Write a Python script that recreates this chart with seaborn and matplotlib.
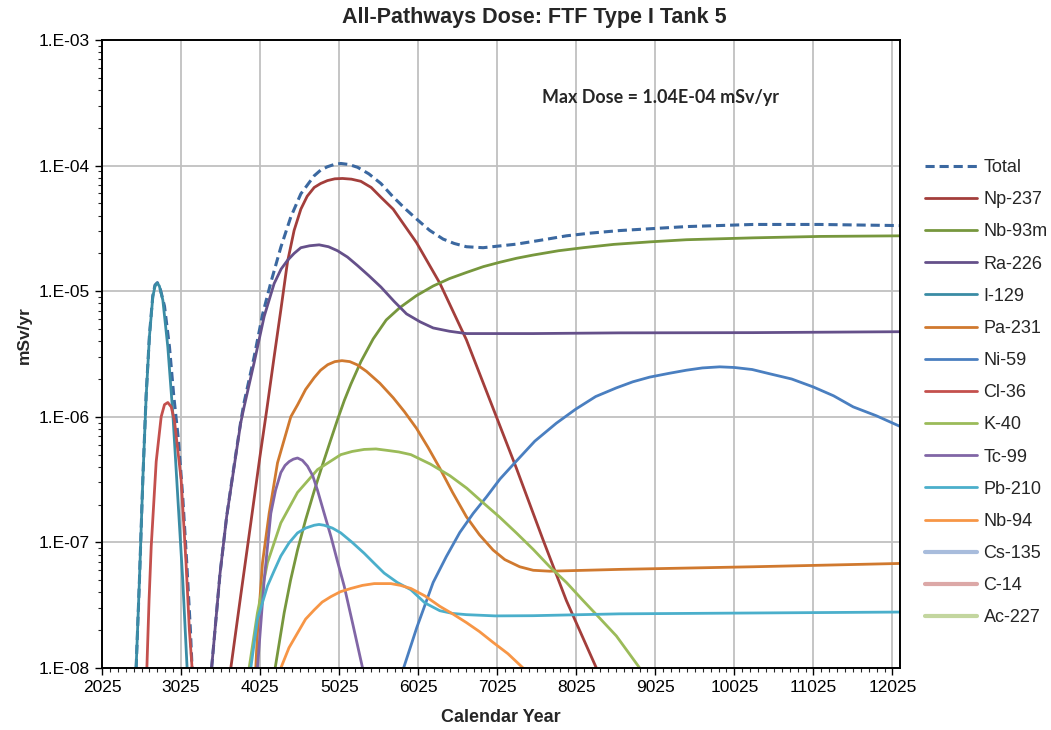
import numpy as np
import pandas as pd
import seaborn as sns
import matplotlib
matplotlib.use('Agg')
import matplotlib.pyplot as plt
from matplotlib.ticker import MultipleLocator, LogLocator, FuncFormatter, NullFormatter

# values (calendar year, dose in mSv/yr)
total_early_year = [2456, 2498, 2541, 2583, 2625, 2667, 2695, 2725, 2760, 2815, 2878, 2933, 2991, 3046,
                    3097, 3143, 3164]
total_early_dose = [1.0e-8, 5.0e-8, 3.2e-7, 1.5e-6, 4.5e-6, 9.2e-6, 1.12e-5, 1.17e-5, 1.05e-5, 7.6e-6,
                    3.6e-6, 1.45e-6, 6.6e-7, 2.3e-7, 6.8e-8, 2.0e-8, 1.0e-8]
total_year = [3411, 3517, 3601, 3685, 3780, 3822, 3949, 4055, 4160, 4287, 4413, 4540, 4709, 4790, 4877,
              4960, 5046, 5150, 5257, 5400, 5553, 5700, 5850, 6003, 6170, 6340, 6480, 6635, 6846, 7267,
              7580, 7899, 8200, 8573, 9418, 10262, 11106, 12119]
total_dose = [1.0e-8, 5.6e-8, 1.6e-7, 3.7e-7, 9.2e-7, 1.3e-6, 3.0e-6, 6.5e-6, 1.17e-5, 2.24e-5, 3.9e-5,
              5.96e-5, 8.3e-5, 9.2e-5, 9.8e-5, 1.02e-4, 1.04e-4, 1.02e-4, 9.7e-5, 8.6e-5, 7.2e-5, 5.7e-5,
              4.6e-5, 3.76e-5, 3.05e-5, 2.6e-5, 2.4e-5, 2.26e-5, 2.22e-5, 2.37e-5, 2.55e-5, 2.76e-5,
              2.9e-5, 3.04e-5, 3.27e-5, 3.40e-5, 3.40e-5, 3.33e-5]

np237_year = [3654, 3780, 3907, 4020, 4109, 4202, 4287, 4371, 4455, 4540, 4620, 4709, 4790, 4877, 4970,
              5067, 5180, 5299, 5430, 5553, 5708, 6003, 6298, 6635, 6972, 7267, 7604, 7899, 8279]
np237_dose = [1.0e-8, 3.8e-8, 1.43e-7, 4.7e-7, 1.14e-6, 3.0e-6, 7.1e-6, 1.71e-5, 3.05e-5, 4.5e-5, 5.7e-5,
              6.7e-5, 7.2e-5, 7.6e-5, 7.85e-5, 7.9e-5, 7.8e-5, 7.5e-5, 6.7e-5, 5.6e-5, 4.5e-5, 2.44e-5,
              1.16e-5, 4.1e-6, 1.17e-6, 3.9e-7, 1.05e-7, 3.45e-8, 1.0e-8]

nb93m_year = [4215, 4329, 4410, 4498, 4600, 4709, 4810, 4920, 5004, 5090, 5173, 5300, 5455, 5620, 5792,
              6000, 6214, 6420, 6635, 6850, 7057, 7270, 7478, 7800, 8110, 8500, 8953, 9418, 10262,
              11106, 12119]
nb93m_dose = [1.0e-8, 2.75e-8, 5.0e-8, 8.7e-8, 1.51e-7, 2.57e-7, 4.07e-7, 6.6e-7, 9.5e-7, 1.35e-6, 1.82e-6,
              2.75e-6, 4.17e-6, 5.9e-6, 7.4e-6, 9.2e-6, 1.1e-5, 1.26e-5, 1.41e-5, 1.57e-5, 1.7e-5,
              1.83e-5, 1.94e-5, 2.1e-5, 2.22e-5, 2.36e-5, 2.47e-5, 2.57e-5, 2.66e-5, 2.73e-5, 2.76e-5]

ra226_year = [3411, 3517, 3601, 3685, 3780, 3822, 3949, 4076, 4202, 4290, 4371, 4455, 4540, 4650, 4772,
              4890, 5004, 5130, 5257, 5400, 5553, 5720, 5877, 6050, 6214, 6420, 6635, 7478, 8573,
              10262, 12119]
ra226_dose = [1.0e-8, 5.6e-8, 1.6e-7, 3.6e-7, 9.0e-7, 1.2e-6, 2.7e-6, 6.3e-6, 1.15e-5, 1.5e-5, 1.76e-5,
              2.0e-5, 2.22e-5, 2.3e-5, 2.34e-5, 2.26e-5, 2.1e-5, 1.87e-5, 1.6e-5, 1.33e-5, 1.08e-5,
              8.3e-6, 6.6e-6, 5.7e-6, 5.1e-6, 4.8e-6, 4.6e-6, 4.6e-6, 4.66e-6, 4.68e-6, 4.76e-6]

i129_year = [2456, 2498, 2541, 2583, 2625, 2667, 2695, 2722, 2750, 2794, 2857, 2920, 2983, 3046, 3101]
i129_dose = [1.0e-8, 5.0e-8, 3.2e-7, 1.45e-6, 4.4e-6, 9.0e-6, 1.1e-5, 1.16e-5, 1.1e-5, 8.5e-6, 3.6e-6,
             1.07e-6, 2.3e-7, 5.0e-8, 1.0e-8]

pa231_year = [3970, 3991, 4055, 4139, 4245, 4413, 4500, 4600, 4709, 4790, 4880, 4970, 5060, 5160, 5250,
              5371, 5540, 5708, 5850, 6003, 6150, 6298, 6460, 6635, 6800, 6972, 7120, 7309, 7480, 7689,
              8573, 10262, 12119]
pa231_dose = [1.0e-8, 1.9e-8, 6.9e-8, 1.7e-7, 4.3e-7, 1.0e-6, 1.25e-6, 1.65e-6, 2.05e-6, 2.35e-6, 2.6e-6,
              2.75e-6, 2.8e-6, 2.75e-6, 2.6e-6, 2.3e-6, 1.85e-6, 1.42e-6, 1.1e-6, 8.1e-7, 5.7e-7, 3.9e-7,
              2.5e-7, 1.6e-7, 1.15e-7, 8.7e-8, 7.3e-8, 6.4e-8, 6.0e-8, 5.9e-8, 6.1e-8, 6.4e-8, 6.8e-8]

ni59_year = [5840, 6007, 6214, 6380, 6551, 6720, 6888, 7060, 7246, 7500, 7773, 8017, 8270, 8532, 8740,
             8953, 9200, 9418, 9620, 9840, 10025, 10250, 10473, 10750, 11022, 11280, 11528, 11820, 12119]
ni59_dose = [1.0e-8, 2.1e-8, 4.8e-8, 7.7e-8, 1.2e-7, 1.7e-7, 2.3e-7, 3.2e-7, 4.3e-7, 6.4e-7, 8.9e-7,
             1.15e-6, 1.45e-6, 1.7e-6, 1.9e-6, 2.07e-6, 2.22e-6, 2.35e-6, 2.45e-6, 2.5e-6, 2.47e-6,
             2.38e-6, 2.2e-6, 2.0e-6, 1.73e-6, 1.47e-6, 1.2e-6, 1.02e-6, 8.4e-7]

cl36_year = [2592, 2620, 2647, 2710, 2773, 2815, 2857, 2900, 2941, 3025, 3088, 3130, 3164]
cl36_dose = [1.0e-8, 3.5e-8, 9.3e-8, 4.4e-7, 1.0e-6, 1.25e-6, 1.3e-6, 1.2e-6, 9.3e-7, 3.2e-7, 6.8e-8,
             2.0e-8, 1.0e-8]

k40_year = [3886, 3991, 4118, 4287, 4498, 4751, 5046, 5190, 5341, 5490, 5637, 5780, 5932, 6180, 6425,
            6640, 6846, 7050, 7267, 7480, 7689, 7900, 8110, 8320, 8532, 8827]
k40_dose = [1.0e-8, 2.75e-8, 6.9e-8, 1.43e-7, 2.5e-7, 3.8e-7, 5.0e-7, 5.3e-7, 5.5e-7, 5.55e-7, 5.4e-7,
            5.25e-7, 5.0e-7, 4.2e-7, 3.4e-7, 2.7e-7, 2.07e-7, 1.6e-7, 1.19e-7, 8.8e-8, 6.4e-8, 4.8e-8,
            3.45e-8, 2.5e-8, 1.8e-8, 1.0e-8]

tc99_year = [3991, 4076, 4160, 4220, 4287, 4340, 4392, 4445, 4498, 4560, 4624, 4690, 4751, 4830, 4920,
             5000, 5088, 5200, 5321]
tc99_dose = [1.0e-8, 5.0e-8, 1.7e-7, 2.6e-7, 3.6e-7, 4.1e-7, 4.4e-7, 4.6e-7, 4.7e-7, 4.5e-7, 4.05e-7,
             3.4e-7, 2.6e-7, 1.75e-7, 1.12e-7, 7.2e-8, 4.5e-8, 2.2e-8, 1.0e-8]

pb210_year = [3907, 3991, 4118, 4200, 4287, 4390, 4498, 4600, 4709, 4770, 4835, 4940, 5046, 5190, 5341,
              5470, 5594, 5760, 5932, 6110, 6298, 6460, 6635, 7000, 7478, 8573, 12119]
pb210_dose = [1.0e-8, 2.45e-8, 4.5e-8, 5.9e-8, 7.8e-8, 9.9e-8, 1.19e-7, 1.3e-7, 1.37e-7, 1.39e-7,
              1.37e-7, 1.3e-7, 1.19e-7, 1.0e-7, 8.2e-8, 6.8e-8, 5.7e-8, 4.8e-8, 4.2e-8, 3.3e-8, 2.86e-8,
              2.72e-8, 2.66e-8, 2.6e-8, 2.61e-8, 2.7e-8, 2.79e-8]

nb94_year = [4287, 4390, 4498, 4600, 4709, 4810, 4920, 5040, 5173, 5320, 5468, 5679, 5800, 5932, 6110,
             6298, 6460, 6635, 6800, 6972, 7160, 7352]
nb94_dose = [1.0e-8, 1.45e-8, 1.9e-8, 2.45e-8, 2.9e-8, 3.35e-8, 3.7e-8, 4.05e-8, 4.3e-8, 4.55e-8, 4.7e-8,
             4.7e-8, 4.55e-8, 4.3e-8, 3.75e-8, 3.1e-8, 2.7e-8, 2.3e-8, 1.95e-8, 1.6e-8, 1.3e-8, 1.0e-8]

# below the plotted range, only shown in the legend
cs135_year, cs135_dose = [], []
c14_year, c14_dose = [], []
ac227_year, ac227_dose = [], []

nuclides = ['Np-237', 'Nb-93m', 'Ra-226', 'I-129', 'Pa-231', 'Ni-59', 'Cl-36', 'K-40', 'Tc-99',
            'Pb-210', 'Nb-94', 'Cs-135', 'C-14', 'Ac-227']
series = [(np237_year, np237_dose), (nb93m_year, nb93m_dose), (ra226_year, ra226_dose),
          (i129_year, i129_dose), (pa231_year, pa231_dose), (ni59_year, ni59_dose),
          (cl36_year, cl36_dose), (k40_year, k40_dose), (tc99_year, tc99_dose),
          (pb210_year, pb210_dose), (nb94_year, nb94_dose), (cs135_year, cs135_dose),
          (c14_year, c14_dose), (ac227_year, ac227_dose)]
colors = ['#A33E3B', '#77973D', '#65508A', '#3A8CA5', '#D0792F', '#4A7FC0', '#C4504D', '#9BBB59',
          '#8166A6', '#4BAFCB', '#F79646', '#A8BCDC', '#DCA8A7', '#C3D69F']
total_color = '#3B68A0'

sns.set_style('white')
plt.rcParams['font.family'] = ['Liberation Sans', 'DejaVu Sans']

fig = plt.figure(figsize=(10.51, 7.30), dpi=100)
ax = fig.add_axes([0.0971, 0.0849, 0.7592, 0.8603])

dash = (0, (3, 1.6))
handles = []
sns.lineplot(x=total_early_year, y=total_early_dose, ax=ax, color=total_color, lw=2.2,
             linestyle=dash, estimator=None, sort=False)
sns.lineplot(x=total_year, y=total_dose, ax=ax, color=total_color, lw=2.2,
             linestyle=dash, estimator=None, sort=False)
handles.append(plt.Line2D([], [], color=total_color, lw=2.2, linestyle=dash, label='Total'))

for name, (yr, dose), col in zip(nuclides, series, colors):
    if len(yr):
        sns.lineplot(x=yr, y=dose, ax=ax, color=col, lw=2.0, estimator=None, sort=False)
    lw = 3.0 if not len(yr) else 2.0
    handles.append(plt.Line2D([], [], color=col, lw=lw, label=name))

ax.set_yscale('log')
ax.set_ylim(1e-8, 1e-3)
ax.set_xlim(2025, 12120)

ax.xaxis.set_major_locator(MultipleLocator(1000, offset=25))
ax.xaxis.set_minor_locator(MultipleLocator(100, offset=25))
ax.yaxis.set_major_locator(LogLocator(base=10, numticks=10))
ax.yaxis.set_minor_locator(LogLocator(base=10, subs=np.arange(2, 10), numticks=20))
ax.yaxis.set_major_formatter(FuncFormatter(lambda v, p: '1.E-%02d' % int(round(-np.log10(v)))))
ax.yaxis.set_minor_formatter(NullFormatter())

ax.grid(which='major', color='#C0C0C0', lw=1.3)
ax.grid(which='minor', visible=False)
for sp in ax.spines.values():
    sp.set_color('black')
    sp.set_linewidth(1.4)
ax.tick_params(which='major', direction='out', length=5, width=1, labelsize=12.5, colors='black',
               bottom=True, left=True)
ax.tick_params(which='minor', direction='out', length=3, width=0.8, bottom=True, left=True)

ax.set_xlabel('Calendar Year', fontsize=13, fontweight='bold', labelpad=10)
ax.set_ylabel('mSv/yr', fontsize=12.5, fontweight='bold')
ax.yaxis.set_label_coords(-0.088, 0.53)

fig.text(0.508, 0.976, 'All-Pathways Dose: FTF Type I Tank 5', ha='center', va='center',
         fontsize=15.5, fontweight='bold')
fig.text(0.516, 0.867, 'Max Dose = 1.04E-04 mSv/yr', ha='left', va='center',
         fontsize=12.9, fontweight='bold', family=['Lato', 'DejaVu Sans'])

fig.legend(handles=handles, loc='upper left', bbox_to_anchor=(0.880, 0.782), frameon=False,
           fontsize=13, handlelength=2.9, handletextpad=0.35, labelspacing=0.84,
           borderpad=0, borderaxespad=0)

fig.savefig('out.png', dpi=100)
